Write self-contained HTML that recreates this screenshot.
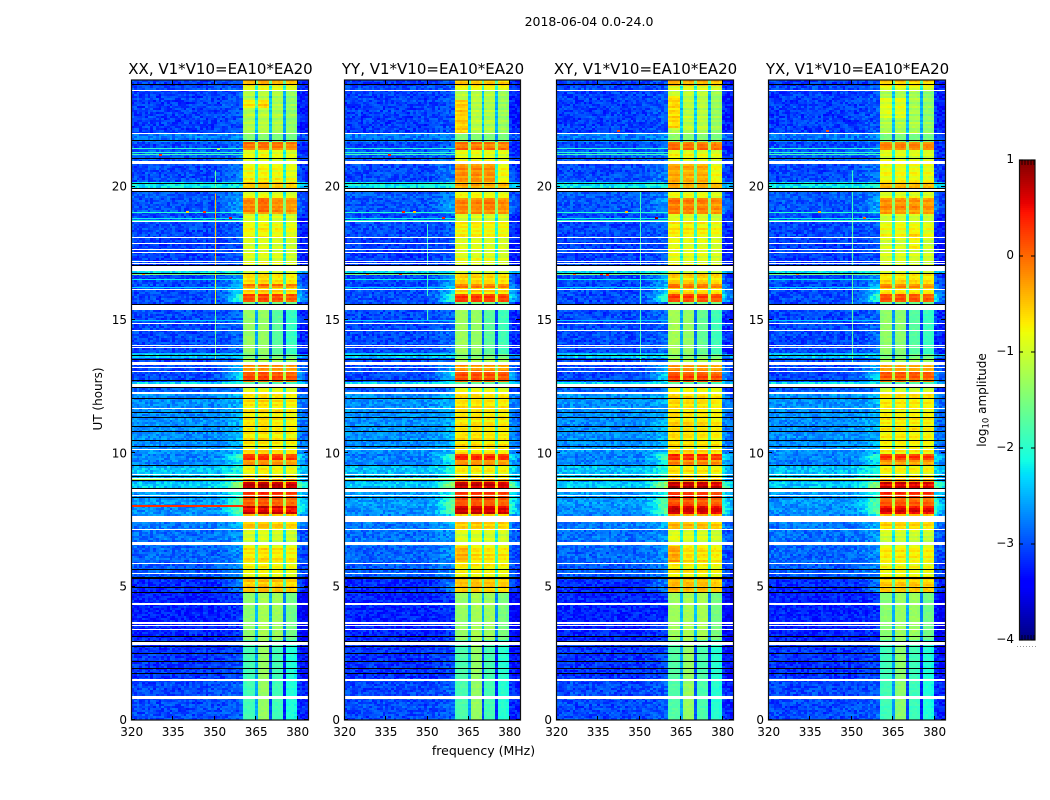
<!DOCTYPE html>
<html lang="en">
<head>
<meta charset="utf-8">
<title>2018-06-04 waterfall</title>
<style>
html,body{margin:0;padding:0;background:#fff;}
svg{display:block;}
text{font-family:"DejaVu Sans","Liberation Sans",sans-serif;fill:#000;}
</style>
</head>
<body>
<svg id="figure" xmlns="http://www.w3.org/2000/svg" width="1050" height="800" viewBox="0 0 1050 800">
  <text x="589" y="26" font-size="12.5" text-anchor="middle">2018-06-04 0.0-24.0</text>
  <text x="483.5" y="755" font-size="12.5" text-anchor="middle">frequency (MHz)</text>
  <text x="102" y="399" font-size="12" text-anchor="middle" transform="rotate(-90 102 399)">UT (hours)</text>
  <text x="986" y="400" font-size="12" text-anchor="middle" transform="rotate(-90 986 400)">log<tspan font-size="8.5" dy="2.5">10</tspan><tspan dy="-2.5"> amplitude</tspan></text>
</svg>
<script>
// ---- Chart data ----
const panelTitles = ['XX, V1*V10=EA10*EA20','YY, V1*V10=EA10*EA20','XY, V1*V10=EA10*EA20','YX, V1*V10=EA10*EA20'];
const freqTicks = [320,335,350,365,380];
const timeTicks = [0,5,10,15,20];
const colorTicks = [1,0,-1,-2,-3,-4];

// Time segments, hours (N+1 edges) with log10 amplitude per segment
const segmentEdges = [0,1.5,3,4.8,5.33,5.89,6.56,7.13,7.65,7.76,8.03,8.36,8.7,8.93,9.08,9.56,9.75,10.01,12.23,12.6,12.71,13.05,13.35,13.54,13.69,15.38,15.64,15.94,16.2,16.35,16.69,16.84,17.06,18.11,18.68,19.01,19.61,19.95,20.14,20.85,21.38,21.71,21.98,23.59,23.81,24];
const backgroundLevel = [-3.05,-3.15,-3.25,-3.2,-2.95,-2.9,-2.85,-2.8,-2.75,-2.7,-2.65,-2.65,-2.4,-2.65,-2.45,-2.75,-2.75,-2.7,-2.95,-2.3,-3.05,-3.05,-3.05,-2.4,-3.05,-3.05,-3.05,-3.05,-3.05,-3.05,-2.3,-3.05,-3.1,-3.05,-3.05,-3.0,-2.95,-2.25,-3.05,-2.95,-3.05,-2.8,-3.1,-3.05,-3.1];
const bandLevel = [-1.45,-1.45,-1.35,-0.55,-0.85,-0.75,-1.05,-0.6,-0.5,0.55,0.0,0.2,0.6,-0.3,-0.8,-0.3,0.2,-0.75,-1.0,-1.8,0.05,-0.35,-1.3,-1.6,-1.6,-1.6,0.1,-0.7,-0.15,-0.7,-1.1,-1.05,-1.0,-0.85,-1.05,-0.25,-0.95,-0.5,-0.85,-0.95,-0.15,-1.55,-1.25,-1.0,-0.55];
const glowLevel = [0,0,0,0.3,0.1,0.1,0.1,0.2,0.4,0.9,0.8,0.5,0.9,0.5,0.3,0.4,0.7,0.1,0,0,0.6,0.4,0.1,0,0.05,0.05,0.95,0.6,0.5,0.3,0,0,0,0,0,0.3,0.1,0,0.15,0,0,0,0.02,0,0];

// Channel shape offsets
const edgeRamp = [0,0,0,0,0,0,0,0,0,0,0,0,0,0,0,0,0,0,0,0,0,0,0,0,0,0,0,0,0,0,0.04,0.08,0.14,0.2,0.3,0.45,0.6,0.8,0.9,1,0,0,0,0,0,0,0,0,0,0,0,0,0,0,0,0,0,0,0,0,0.95,0.75,0.6,0.45];
const edgeBase = [0.02,0,0.03,0,0.02,0.04,0,0.02,0,0.03,0,0.02,0,0.01,0.03,0,0.02,0,0.02,0.01,0,0.03,0,0.02,0,0.03,0.02,0,0.04,0,0.04,0.02,0.05,0.06,0.05,0.08,0.08,0.1,0.1,0.12,0,0,0,0,0,0,0,0,0,0,0,0,0,0,0,0,0,0,0,0,-0.1,-0.15,-0.18,-0.2];
const bandShape = [-0.05,0.03,0.06,0.06,0.03,-1.15,0.03,0.06,0.06,0.03,-1.15,0.02,0.05,0.05,0.02,-1.15,0.02,0.05,0.04,-0.03];
const panelBandOffset = [0,0.02,0.04,-0.02];
const subbandOffset = [[0,0.05,0,-0.05],[0.03,0.02,0,-0.02],[0.05,0.02,0.02,-0.05],[0,0,0,-0.02]];
const bandEdgeFreq = 360.5;

// Local subband brightening: panel (-1 = all), subband, start hour, end hour, delta
const hotPanel = [-1,-1,-1,-1,-1,0,0,1,2,3,3,1,1,1,2,2,2,1,2,0,0,1,3,-1,-1,-1,-1,-1];
const hotSubband = [0,2,3,3,0,0,1,0,0,0,1,0,1,2,0,1,2,0,0,0,1,2,2,0,1,2,3,3];
const hotStart = [0,0,0,3,3,22.95,22.95,21.98,22.2,22.6,22.6,20.14,20.14,20.14,20.14,20.14,20.14,5.9,5.9,19.05,19.05,19.1,17.6,13.69,13.69,13.69,13.69,21.98];
const hotEnd = [3,3,3,4.8,4.8,23.25,23.25,23.25,23.4,23.3,23.3,20.85,20.85,20.85,20.85,20.85,20.85,6.56,6.56,19.6,19.6,19.6,18.4,15.38,15.38,15.38,15.38,23.59];
const hotDelta = [-0.45,-0.45,-0.6,-0.2,-0.1,0.5,0.55,0.6,0.5,0.3,0.3,0.55,0.55,0.55,0.35,0.35,0.35,0.25,0.3,0.05,0.15,0.1,0.2,0.2,0.15,-0.15,-0.3,-0.1];

// Horizontal interference lines across the low-frequency side
const rfiPanel = [-1,-1,-1,-1,-1,-1,-1,-1,-1,-1,0,-1,-1];
const rfiStart = [21.4,21.17,21.28,19.03,18.8,18.73,16.7,16.5,16.2,14.98,8.0,9.0,13.75];
const rfiEnd = [21.44,21.21,21.31,19.06,18.84,18.76,16.73,16.53,16.23,15.01,8.05,9.03,13.78];
const rfiLevel = [-2.0,-1.85,-2.0,-2.0,-2.2,-2.0,-1.5,-2.2,-2.3,-2.4,0.3,-1.2,-2.4];

// Vertical interference near 350 MHz
const columnPanel = [0,0,0,0,1,1,2,3,3];
const columnFreq = [350.3,350.3,350.3,350.3,350.3,350.3,350.3,350.3,350.3];
const columnStart = [16.9,15.6,13.5,19.95,15.0,15.9,13.4,13.4,18.9];
const columnEnd = [19.75,16.9,15.4,20.6,15.5,18.6,19.9,19.9,20.6];
const columnLevel = [-0.4,-0.9,-1.6,-1.6,-1.8,-1.9,-1.9,-1.7,-1.9];

// Isolated hot spots: panel, frequency, hour, level
const spikePanel = [0,1,2,3,0,0,1,2,2,1,3,0,1,2,0,0,1,1,2,2,3,3];
const spikeFreq = [355.5,355.5,355.8,354.5,351,346,341,342,338,340,341,330,336,336,340,324,345,328,345,326,338,330];
const spikeHour = [18.82,18.82,18.82,18.82,21.42,19.05,19.05,22.1,16.7,16.72,22.1,21.2,21.2,16.72,19.04,16.71,19.04,16.71,19.04,16.71,19.04,16.71];
const spikeLevel = [0.5,0.4,0.9,0.0,-1.3,0.3,0.4,0.2,0.4,0.3,0.1,0.3,0.4,0.3,-0.6,-0.2,-0.5,-0.1,-0.4,0,-0.4,-0.2];

// Completely flagged rows (white) and zero rows (black), hours
const blankStart = [0.79,1.46,3.38,3.51,3.6,2.81,4.33,5.46,5.85,6.56,7.13,7.43,8.4,8.55,9.06,9.19,10.13,11.66,12.23,12.49,13.05,13.2,13.31,13.95,14.03,14.59,14.85,15.38,16.13,16.84,17.1,17.18,17.51,17.63,17.85,18.08,18.68,19.84,20.85,21.98,23.59];
const blankEnd = [0.9,1.54,3.43,3.56,3.66,2.91,4.39,5.51,5.89,6.68,7.16,7.65,8.44,8.66,9.09,9.23,10.16,11.7,12.3,12.6,13.09,13.24,13.43,13.99,14.06,14.63,14.89,15.6,16.16,17.03,17.14,17.21,17.55,17.66,17.89,18.11,18.71,19.91,20.96,22.01,23.63];
const zeroStart = [1.73,1.91,2.18,2.48,2.74,2.92,3.11,4.76,4.95,5.29,5.63,8.33,8.66,8.96,9.11,9.53,10.24,10.46,10.8,10.99,11.33,11.51,12.04,12.45,12.71,13.5,13.65,15.56,16.73,17.03,19.8,19.91,20.1,21.04,21.71,23.81];
const zeroEnd = [1.76,1.95,2.21,2.51,2.78,2.96,3.15,4.8,4.99,5.36,5.66,8.38,8.7,9.0,9.15,9.56,10.28,10.5,10.84,11.03,11.36,11.55,12.08,12.49,12.75,13.54,13.69,15.6,16.76,17.06,19.84,19.95,20.15,21.08,21.75,23.85];

// Hand-typed fine grain of the measurement noise (hundredths of a dex)
const speckle = [12,-18,5,27,-9,-24,16,3,-14,22,-6,9,-28,18,-2,11,-20,25,-11,7,14,-16,1,-26,20,8,-12,24,-4,-19,10,17,-23,6,-8,29,-15,2,13,-21,19,-5,-27,15,4,-10,23,-17,9,-1,26,-13,-22,11,6,-7,18,-25,21,3,-16,12,-3,28,-20,7,-11,16,-24,1,24,-9,13,-18,5,-29,19,10,-6,-14,22,8,-21,15,-2,27,-12,-17,4,20,-8,11,-26,17,2,-15,25,-4,-19,9,14];
const rowStripe = [4,-8,12,2,-14,6,16,-3,-10,9,-5,18,-12,1,7,-16,11,3,-7,14,-1,-11,8,15,-9,5,-13,10,-2,17,-6,-15,13,-4,6,-10,2];

// Matplotlib "jet" control points
const jetRedAt = [0,0.35,0.66,0.89,1];
const jetRedVal = [0,0,1,1,0.5];
const jetGreenAt = [0,0.125,0.375,0.64,0.91,1];
const jetGreenVal = [0,0,1,1,0,0];
const jetBlueAt = [0,0.11,0.34,0.65,1];
const jetBlueVal = [0.5,1,1,0,0];

// ---- Layout ----
const NS = 'http://www.w3.org/2000/svg';
const svg = document.getElementById('figure');
const plotLeft = [131,344,556,768];
const plotWidth = [177,176,177,177];
const plotTop = 80, plotBottom = 720;
const freqMin = 320, freqMax = 384, hourMax = 24;
const channelCount = 64, rowCount = 320;
const cbLeft = 1019, cbRight = 1035, cbTop = 160, cbBottom = 640;
const levelMin = -4, levelMax = 1, colorBins = 256;

// ---- Scales ----
function xScale(p, f){ return plotLeft[p] + (f - freqMin) * plotWidth[p] / (freqMax - freqMin); }
function yScale(h){ return plotBottom - h * (plotBottom - plotTop) / hourMax; }
function cbScale(v){ return cbTop + (levelMax - v) * (cbBottom - cbTop) / (levelMax - levelMin); }
function lerp(at, val, t){
  for (let i = 1; i < at.length; i++) {
    if (t <= at[i]) return val[i-1] + (val[i]-val[i-1]) * (t-at[i-1]) / (at[i]-at[i-1]);
  }
  return val[val.length-1];
}
function jet(t){
  t = Math.max(0, Math.min(1, t));
  return 'rgb(' + Math.round(255*lerp(jetRedAt,jetRedVal,t)) + ',' + Math.round(255*lerp(jetGreenAt,jetGreenVal,t)) + ',' + Math.round(255*lerp(jetBlueAt,jetBlueVal,t)) + ')';
}
function colorScale(v){ return jet((v - levelMin) / (levelMax - levelMin)); }
function binOf(v){
  const t = Math.max(0, Math.min(1, (v - levelMin) / (levelMax - levelMin)));
  return Math.min(colorBins - 1, Math.floor(t * colorBins));
}
function make(tag, attrs, parent){
  const el = document.createElementNS(NS, tag);
  for (const k in attrs) el.setAttribute(k, attrs[k]);
  (parent || svg).appendChild(el);
  return el;
}
function segmentIndex(h){
  for (let i = 0; i < segmentEdges.length - 1; i++) if (h < segmentEdges[i+1]) return i;
  return segmentEdges.length - 2;
}
function channelEdge(c){ return c === 40 ? bandEdgeFreq : freqMin + c; }
function cellValue(p, c, r){
  const h = (r + 0.5) * hourMax / rowCount;
  const s = segmentIndex(h);
  const idx = (c*c*3 + r*r*5 + c*r + c*13 + r*29 + p*7) % speckle.length;
  const jitter = speckle[idx] / 100;
  const stripe = rowStripe[(r + p*3) % rowStripe.length] / 100;
  if (c >= 40 && c < 60) {
    const i = c - 40, sub = Math.floor(i / 5);
    let hot = 0;
    for (let k = 0; k < hotDelta.length; k++) {
      if ((hotPanel[k] === -1 || hotPanel[k] === p) && hotSubband[k] === sub && h >= hotStart[k] && h < hotEnd[k]) hot += hotDelta[k];
    }
    const gain = bandLevel[s] > -1.3 ? 0.9 : 0.2;
    return bandLevel[s] + panelBandOffset[p] + bandShape[i] + subbandOffset[p][sub] + hot + jitter*0.25 + stripe*gain;
  }
  return backgroundLevel[s] + edgeBase[c] + glowLevel[s]*edgeRamp[c] + jitter*0.85 + stripe*0.15;
}

// ---- Panels ----
panelTitles.forEach(function(title, p){
  const g = make('g', {});
  
  

  // Heatmap cells, grouped by colour bin
  const dByBin = {};
  for (let r = 0; r < rowCount; r++) {
    const hLow = r * hourMax / rowCount, hHigh = (r + 1) * hourMax / rowCount;
    const y0 = Math.round(yScale(hHigh)), y1 = Math.round(yScale(hLow));
    for (let c = 0; c < channelCount; c++) {
      const x0 = Math.round(xScale(p, channelEdge(c))), x1 = Math.round(xScale(p, channelEdge(c + 1)));
      const b = binOf(cellValue(p, c, r));
      (dByBin[b] = dByBin[b] || []).push('M' + x0 + ' ' + y0 + 'h' + (x1-x0) + 'v' + (y1-y0) + 'h' + (x0-x1) + 'z');
    }
  }
  Object.keys(dByBin).forEach(function(b){
    const cells = make('path', {d: dByBin[b].join(''), fill: jet((+b + 0.5) / colorBins), 'shape-rendering': 'crispEdges'}, g);
    
    
  });

  // Horizontal interference lines
  rfiLevel.forEach(function(v, i){
    if (rfiPanel[i] !== -1 && rfiPanel[i] !== p) return;
    const line = make('rect', {x: xScale(p, freqMin), y: Math.round(yScale(rfiEnd[i])), width: xScale(p, 360.5) - xScale(p, freqMin), height: Math.max(1, Math.round(yScale(rfiStart[i])) - Math.round(yScale(rfiEnd[i]))), fill: colorScale(v), 'shape-rendering': 'crispEdges'}, g);
    
    
  });
  // Vertical interference lines
  columnLevel.forEach(function(v, i){
    if (columnPanel[i] !== p) return;
    const line = make('rect', {x: Math.round(xScale(p, columnFreq[i])), y: yScale(columnEnd[i]), width: 1, height: yScale(columnStart[i]) - yScale(columnEnd[i]), fill: colorScale(v), 'shape-rendering': 'crispEdges'}, g);
    
    
  });
  // Isolated spikes
  spikeLevel.forEach(function(v, i){
    if (spikePanel[i] !== p) return;
    const dot = make('rect', {x: Math.round(xScale(p, spikeFreq[i])), y: Math.round(yScale(spikeHour[i])) - 1, width: 3, height: 2, fill: colorScale(v), 'shape-rendering': 'crispEdges'}, g);
    
    
  });
  // Flagged rows
  blankStart.forEach(function(h, i){
    const y0 = Math.round(yScale(blankEnd[i])), y1 = Math.round(yScale(h));
    const row = make('rect', {x: plotLeft[p], y: y0, width: plotWidth[p], height: Math.max(1, y1-y0), fill: '#fff', 'shape-rendering': 'crispEdges'}, g);
    
    
  });
  zeroStart.forEach(function(h, i){
    const y0 = Math.round(yScale(zeroEnd[i])), y1 = Math.round(yScale(h));
    const row = make('rect', {x: plotLeft[p], y: y0, width: plotWidth[p], height: Math.max(1, y1-y0), fill: '#000', 'shape-rendering': 'crispEdges'}, g);
    
    
  });

  // Frame
  const frame = make('rect', {x: plotLeft[p] + 0.5, y: plotTop, width: plotWidth[p], height: plotBottom - plotTop, fill: 'none', stroke: '#111', 'stroke-width': 1.2}, g);
  
  

  // Title
  const t = make('text', {x: plotLeft[p] + plotWidth[p]/2 + 1, y: 74, 'font-size': 15, 'text-anchor': 'middle'}, g);
  t.textContent = title;
  
  

  // X ticks
  freqTicks.forEach(function(f){
    const x = Math.round(xScale(p, f)) + 0.5;
    const tick = make('path', {d: 'M' + x + ' ' + plotBottom + 'v-4M' + x + ' ' + plotTop + 'v4', stroke: '#000', 'stroke-width': 1, fill: 'none'}, g);
    
    
    const label = make('text', {x: xScale(p, f) + 0.7, y: 736, 'font-size': 12, 'text-anchor': 'middle'}, g);
    label.textContent = String(f);
    
    
  });
  // Y ticks
  timeTicks.forEach(function(h){
    const y = Math.round(yScale(h)) - 0.5;
    const x0 = plotLeft[p], x1 = plotLeft[p] + plotWidth[p];
    const tick = make('path', {d: 'M' + x0 + ' ' + y + 'h4M' + x1 + ' ' + y + 'h-4', stroke: '#000', 'stroke-width': 1, fill: 'none'}, g);
    
    
    const label = make('text', {x: plotLeft[p] - 4, y: yScale(h) + 4, 'font-size': 12, 'text-anchor': 'end'}, g);
    label.textContent = String(h);
    
    
  });
});

// ---- Colourbar ----
const cb = make('g', {});


for (let y = cbTop; y < cbBottom; y += 2) {
  const v = levelMax - (y + 1 - cbTop) * (levelMax - levelMin) / (cbBottom - cbTop);
  const strip = make('rect', {x: cbLeft, y: y, width: cbRight - cbLeft, height: 2, fill: colorScale(v), 'shape-rendering': 'crispEdges'}, cb);
  
  
}
const cbFrame = make('rect', {x: cbLeft + 0.5, y: cbTop, width: cbRight - cbLeft - 0.5, height: cbBottom - cbTop, fill: 'none', stroke: '#111', 'stroke-width': 1.2}, cb);


colorTicks.forEach(function(v){
  const y = cbScale(v);
  const tick = make('path', {d: 'M' + cbLeft + ' ' + y + 'h4M' + cbRight + ' ' + y + 'h-4', stroke: '#000', 'stroke-width': 1, fill: 'none'}, cb);
  
  
  const label = make('text', {x: cbLeft - 5, y: y + 3, 'font-size': 12, 'text-anchor': 'end'}, cb);
  label.textContent = String(v).replace('-', '\u2212');
  
  
});
for (let x = cbLeft + 3; x < cbRight; x += 3) {
  const end = make('path', {d: 'M' + x + ' ' + cbTop + 'v5M' + x + ' ' + cbBottom + 'v-5', stroke: '#000', 'stroke-width': 0.8, fill: 'none'}, cb);
  
  
}
for (let x = cbLeft - 2; x < cbRight + 1; x += 3) {
  const dot = make('rect', {x: x, y: 646, width: 1, height: 1, fill: '#999'}, cb);
  
  
}
</script>
</body>
</html>
